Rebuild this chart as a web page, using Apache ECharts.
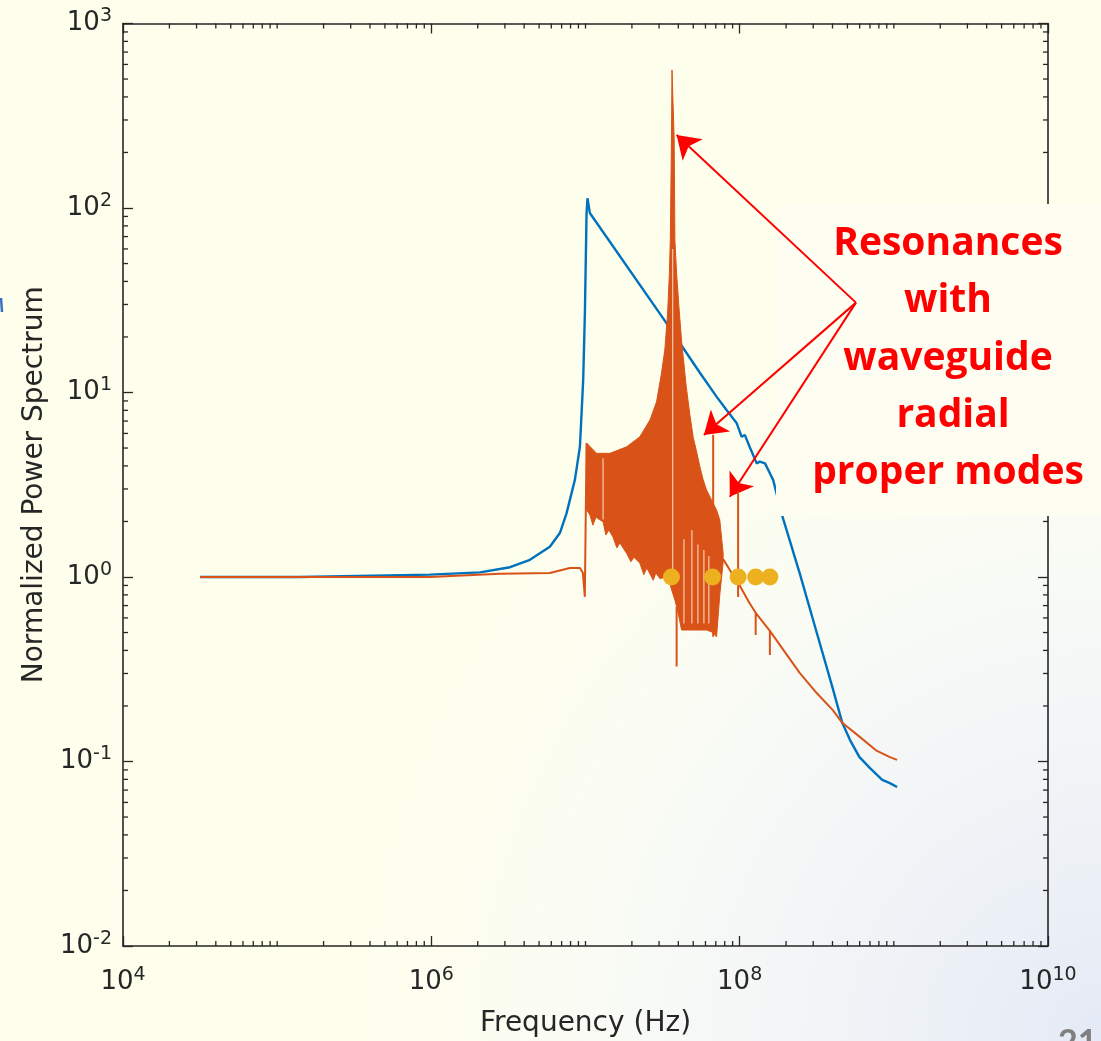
<!DOCTYPE html>
<html>
<head>
<meta charset="utf-8">
<script src="https://cdn.jsdelivr.net/npm/echarts@6/dist/echarts.min.js"></script>
<style>
html, body { margin: 0; padding: 0; }
#chart { width: 1101px; height: 1041px; }
</style>
</head>
<body>
<div id="chart"></div>
<script>
// blue curve (smooth resonance)
const blueFreq = [3.16e4, 1.4e5, 9.8e5, 2.07e6, 3.24e6, 4.36e6, 5.87e6, 6.82e6, 7.54e6, 8.53e6, 9.2e6, 9.66e6, 9.91e6, 1.016e7, 1.03e7, 1.067e7,
  3.36e7, 4.1e7, 5.52e7, 7.08e7, 8.22e7, 9.55e7, 1.03e8, 1.08e8, 1.16e8, 1.29e8, 1.35e8, 1.46e8, 1.57e8, 1.65e8, 1.9e8, 2.45e8, 3.16e8, 3.99e8,
  4.63e8, 5.19e8, 5.97e8, 6.98e8, 8.41e8, 9.42e8, 1.05e9]
const blueVal = [1.0, 1.0, 1.03, 1.06, 1.13, 1.24, 1.46, 1.73, 2.22, 3.36, 5.08, 11.7, 27, 94, 113, 94,
  23.7, 18.5, 12.8, 9.5, 8.04, 6.84, 5.75, 5.89, 5.08, 4.13, 4.22, 4.13, 3.65, 3.35, 2.11, 1.05, 0.5, 0.254,
  0.162, 0.131, 0.106, 0.0923, 0.0794, 0.0764, 0.0728]

// orange curve (with waveguide), null = break in the line
const orangeFreq = [3.16e4, 9.8e5, 2.79e6, 5.87e6, 7.92e6, 9.2e6, 9.62e6, 9.9e6, 1.016e7, null,
  3.9e7, 3.9e7, null, 6.73e7, 6.73e7, null,
  7.81e7, 8.64e7, 9.77e7, 9.77e7, 9.77e7, 9.77e7, 1.16e8, 1.27e8, 1.27e8, 1.27e8, 1.57e8, 1.57e8, 1.57e8,
  2.45e8, 3.16e8, 4.02e8, 4.63e8, 6.01e8, 7.66e8, 9.42e8, 1.05e9]
const orangeVal = [1.0, 1.0, 1.04, 1.05, 1.12, 1.12, 1.05, 0.78, 5.32, null,
  0.69, 0.327, null, 0.474, 5.9, null,
  1.25, 1.09, 0.93, 2.9, 0.78, 0.93, 0.72, 0.64, 0.485, 0.64, 0.51, 0.378, 0.51,
  0.302, 0.235, 0.19, 0.162, 0.136, 0.115, 0.1057, 0.102]

// dense oscillation band of the orange curve: upper and lower envelope
const bandTopFreq = [1.016e7, 1.18e7, 1.44e7, 1.85e7, 2.25e7, 2.62e7, 2.89e7, 3.10e7, 3.27e7, 3.41e7, 3.50e7, 3.55e7, 3.61e7, 3.64e7,
  3.76e7, 3.80e7, 3.90e7, 4.05e7, 4.2e7, 4.5e7, 4.76e7, 5.0e7, 5.25e7, 5.52e7, 5.8e7, 6.1e7, 6.73e7, 7.08e7, 7.43e7, 7.81e7]
const bandTopVal = [5.32, 4.68, 4.68, 5.08, 5.75, 7.1, 8.9, 12.5, 17, 27, 44, 67, 234, 560,
  234, 67, 44, 28, 19, 10.8, 7.5, 5.7, 4.8, 3.96, 3.36, 2.96, 2.51, 2.31, 2.04, 1.35]
const bandBotFreq = [1.016e7, 1.068e7, 1.117e7, 1.168e7, 1.30e7, 1.356e7, 1.418e7, 1.505e7, 1.598e7, 1.672e7, 1.85e7, 1.97e7, 2.06e7,
  2.25e7, 2.39e7, 2.50e7, 2.75e7, 2.86e7, 3.04e7, 3.19e7, 3.41e7, 3.55e7, 3.64e7, 3.80e7, 3.90e7, 4.05e7, 4.2e7, 6.1e7, 6.73e7, 7.08e7, 7.43e7, 7.81e7]
const bandBotVal = [2.31, 2.17, 1.91, 2.11, 1.99, 1.69, 1.80, 1.65, 1.44, 1.53, 1.34, 1.21, 1.28,
  1.19, 1.03, 1.12, 0.96, 1.05, 0.98, 0.99, 0.97, 0.9, 0.84, 0.75, 0.69, 0.6, 0.516, 0.516, 0.5, 0.474, 0.8, 1.2]

// lighter gaps between the oscillations inside the band
const streakFreq = [3.675e7, 3.675e7, null, 1.30e7, 1.30e7, null, 4.35e7, 4.35e7, null, 4.9e7, 4.9e7, null,
  5.36e7, 5.36e7, null, 5.86e7, 5.86e7, null, 6.31e7, 6.31e7]
const streakVal = [0.95, 60, null, 2.05, 4.4, null, 0.56, 1.6, null, 0.56, 1.8, null,
  0.56, 1.5, null, 0.56, 1.4, null, 0.56, 1.3]

// waveguide radial proper modes
const modeFreq = [3.61e7, 6.67e7, 9.77e7, 1.27e8, 1.57e8]
const modeVal = [1, 1, 1, 1, 1]

// annotation arrows: [from, to] in data units
const arrowFrom = [5.68e8, 30.7]
const arrowTo = [[3.9e7, 249], [5.86e7, 5.89], [8.63e7, 2.72]]

const annotLines = ['Resonances', 'with', 'waveguide', ' radial', 'proper modes']

const xMajorExp = [4, 6, 8, 10]
const yMajorExp = [-2, -1, 0, 1, 2, 3]

const AX = '#262626'
const FONT = 'DejaVu Sans'

// minor ticks (2..9 per decade, plus the odd decades on x)
const tickData = []
for (let d = 4; d < 10; d++) {
  for (let k = 1; k <= 9; k++) {
    if (k === 1 && d % 2 === 0) continue
    tickData.push([k * Math.pow(10, d), 0.01, 0])
  }
}
for (let d = -2; d < 3; d++) {
  for (let k = 2; k <= 9; k++) tickData.push([1e4, k * Math.pow(10, d), 1])
}

function supLabel (v) {
  return '10{s|' + Math.round(Math.log10(v)) + '}'
}

function pairs (xs, ys) {
  return xs.map((x, i) => (x === null ? ['-', '-'] : [x, ys[i]]))
}

const chart = echarts.init(document.getElementById('chart'))

function renderBand (params, api) {
  if (params.dataIndex !== 0) return
  const pts = []
  bandTopFreq.forEach((f, i) => pts.push(api.coord([f, bandTopVal[i]])))
  for (let i = bandBotFreq.length - 1; i >= 0; i--) pts.push(api.coord([bandBotFreq[i], bandBotVal[i]]))
  return {
    type: 'polygon',
    shape: { points: pts },
    style: { fill: '#D95319', stroke: '#D95319', lineWidth: 1 }
  }
}

function renderTick (params, api) {
  const len = 5
  const st = { stroke: AX, lineWidth: 1.3 }
  if (api.value(2) === 0) {
    const b = api.coord([api.value(0), 0.01])
    const t = api.coord([api.value(0), 1000])
    return { type: 'group', children: [
      { type: 'line', shape: { x1: b[0], y1: b[1], x2: b[0], y2: b[1] - len }, style: st },
      { type: 'line', shape: { x1: t[0], y1: t[1], x2: t[0], y2: t[1] + len }, style: st }
    ] }
  }
  const l = api.coord([1e4, api.value(1)])
  const r = api.coord([1e10, api.value(1)])
  return { type: 'group', children: [
    { type: 'line', shape: { x1: l[0], y1: l[1], x2: l[0] + len, y2: l[1] }, style: st },
    { type: 'line', shape: { x1: r[0], y1: r[1], x2: r[0] - len, y2: r[1] }, style: st }
  ] }
}

const xAxisBase = {
  type: 'log',
  logBase: 100,
  min: Math.pow(10, xMajorExp[0]),
  max: Math.pow(10, xMajorExp[xMajorExp.length - 1]),
  splitLine: { show: false },
  axisLine: { lineStyle: { color: AX, width: 1.6 } },
  axisTick: { inside: true, length: 10, lineStyle: { color: AX, width: 1.3 } }
}
const yAxisBase = {
  type: 'log',
  logBase: 10,
  min: Math.pow(10, yMajorExp[0]),
  max: Math.pow(10, yMajorExp[yMajorExp.length - 1]),
  splitLine: { show: false },
  axisLine: { lineStyle: { color: AX, width: 1.6 } },
  axisTick: { inside: true, length: 10, lineStyle: { color: AX, width: 1.3 } }
}

const option = {
  animation: false,
  backgroundColor: '#FDFEEB',
  grid: { left: 123, right: 53, top: 23.5, bottom: 95, outerBoundsMode: 'none' },
  xAxis: [
    Object.assign({}, xAxisBase, {
      position: 'bottom',
      name: 'Frequency (Hz)',
      nameLocation: 'middle',
      nameGap: 64,
      nameTextStyle: { fontFamily: FONT, fontSize: 28, color: AX },
      axisLabel: {
        margin: 20, color: AX, fontFamily: FONT, fontSize: 26,
        formatter: supLabel,
        rich: { s: { fontFamily: FONT, fontSize: 19, color: AX, padding: [0, 0, 14, 0] } }
      }
    }),
    Object.assign({}, xAxisBase, { position: 'top', axisLabel: { show: false } })
  ],
  yAxis: [
    Object.assign({}, yAxisBase, {
      position: 'left',
      name: 'Normalized Power Spectrum',
      nameLocation: 'middle',
      nameGap: 74,
      nameTextStyle: { fontFamily: FONT, fontSize: 28, color: AX },
      axisLabel: {
        margin: 11, color: AX, fontFamily: FONT, fontSize: 26,
        formatter: supLabel,
        rich: { s: { fontFamily: FONT, fontSize: 19, color: AX, padding: [0, 0, 14, 0] } }
      }
    }),
    Object.assign({}, yAxisBase, { position: 'right', axisLabel: { show: false } })
  ],
  graphic: [
    {
      type: 'rect', z: -10, silent: true,
      shape: { x: 0, y: 0, width: 1101, height: 1041 },
      style: {
        fill: {
          type: 'radial', x: 1, y: 1, r: 0.75,
          colorStops: [
            { offset: 0, color: '#E4EAF6' },
            { offset: 0.55, color: 'rgba(244,247,251,0.7)' },
            { offset: 1, color: 'rgba(255,255,255,0)' }
          ]
        }
      }
    },
    { type: 'rect', z: 5, silent: true, shape: { x: 776, y: 204, width: 325, height: 312 }, style: { fill: '#FDFEF1' } },
    ...annotLines.map((t, i) => ({
      type: 'text', z: 20, silent: true,
      x: 948, y: 244 + i * 57.3,
      style: { text: t, fill: '#FF0000', fontFamily: 'Open Sans', fontWeight: 'bold', fontSize: 39, align: 'center', verticalAlign: 'middle' }
    })),
    { type: 'text', z: 20, silent: true, x: 1058, y: 1026, style: { text: '21', fill: '#7F7F7F', fontFamily: 'Lato', fontWeight: 'bold', fontSize: 34 } },
    { type: 'line', z: 20, silent: true, shape: { x1: 1, y1: 298, x2: 2, y2: 312 }, style: { stroke: '#3A6FC4', lineWidth: 2.5 } }
  ],
  series: [
    {
      type: 'custom', name: 'ticks', silent: true, z: 3,
      renderItem: renderTick,
      encode: { x: 0, y: 1 },
      data: tickData
    },
    {
      type: 'line', name: 'blue', silent: true, z: 2,
      showSymbol: false, symbol: 'none',
      lineStyle: { color: '#0072BD', width: 2.4 },
      data: pairs(blueFreq, blueVal)
    },
    {
      type: 'custom', name: 'band', silent: true, z: 3,
      renderItem: renderBand,
      encode: { x: 0, y: 1 },
      data: pairs(bandTopFreq, bandTopVal)
    },
    {
      type: 'line', name: 'streaks', silent: true, z: 4,
      showSymbol: false, symbol: 'none', connectNulls: false,
      lineStyle: { color: '#F3C2A4', width: 1.3 },
      data: pairs(streakFreq, streakVal)
    },
    {
      type: 'line', name: 'orange', silent: true, z: 5,
      showSymbol: false, symbol: 'none', connectNulls: false,
      lineStyle: { color: '#D95319', width: 2 },
      data: pairs(orangeFreq, orangeVal)
    },
    {
      type: 'scatter', name: 'modes', silent: true, z: 10,
      symbolSize: 17,
      itemStyle: { color: '#EDB120', opacity: 1 },
      data: pairs(modeFreq, modeVal),
      markLine: {
        silent: true,
        symbol: ['none', 'arrow'],
        symbolSize: 22,
        label: { show: false },
        lineStyle: { color: '#FF0000', width: 2, type: 'solid' },
        emphasis: { disabled: true },
        data: arrowTo.map(p => [{ coord: arrowFrom }, { coord: p }])
      }
    }
  ]
}

chart.setOption(option)
</script>
</body>
</html>
